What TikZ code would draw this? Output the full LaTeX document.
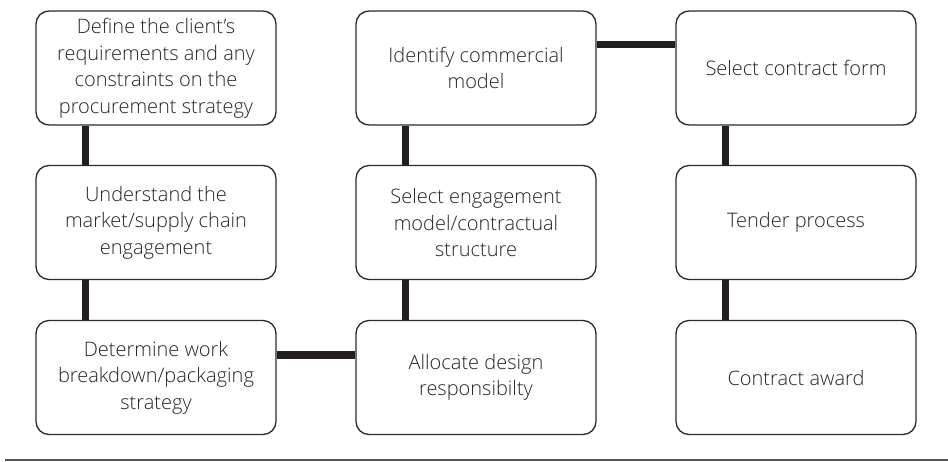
\documentclass[tikz,border=0pt]{standalone}
\usepackage{fontspec}
\setmainfont{Open Sans}[UprightFont=* Light]
\definecolor{boxline}{HTML}{2B2B2B}
\definecolor{txt}{HTML}{262626}
\definecolor{conn}{HTML}{231F20}
\definecolor{rule}{HTML}{555555}
\begin{document}
\begin{tikzpicture}[x=1pt,y=-1pt,
  stepbox/.style={draw=boxline,line width=1.3pt,rounded corners=13pt,fill=white,
    minimum width=240pt,minimum height=114pt,align=center,text=txt,
    font=\fontsize{20}{26.5}\selectfont,inner sep=0pt},
  link/.style={draw=conn,line width=7.5pt}]
\useasboundingbox (0,0) rectangle (948,461);
\node[stepbox] (a1) at (156,68) {Define the client’s\\requirements and any\\constraints on the\\procurement strategy};
\node[stepbox] (a2) at (156,222.5) {Understand the\\market/supply chain\\engagement};
\node[stepbox] (a3) at (156,377.5) {Determine work\\breakdown/packaging\\strategy};
\node[stepbox] (b1) at (476,68) {Identify commercial\\model};
\node[stepbox] (b2) at (476,222.5) {Select engagement\\model/contractual\\structure};
\node[stepbox] (b3) at (476,377.5) {Allocate design\\responsibilty};
\node[stepbox] (c1) at (796,68) {Select contract form};
\node[stepbox] (c2) at (796,222.5) {Tender process};
\node[stepbox] (c3) at (796,377.5) {Contract award};
\path[link] ([xshift=50pt]a1.south west) -- ([xshift=50pt]a2.north west);
\path[link] ([xshift=50pt]a2.south west) -- ([xshift=50pt]a3.north west);
\path[link] ([yshift=-35pt]a3.north east) -- ([yshift=-35pt]b3.north west);
\path[link] ([xshift=50pt]b3.north west) -- ([xshift=50pt]b2.south west);
\path[link] ([xshift=50pt]b2.north west) -- ([xshift=50pt]b1.south west);
\path[link] ([yshift=-34pt]b1.north east) -- ([yshift=-34pt]c1.north west);
\path[link] ([xshift=50pt]c1.south west) -- ([xshift=50pt]c2.north west);
\path[link] ([xshift=50pt]c2.south west) -- ([xshift=50pt]c3.north west);
\coordinate (ruleL) at (5,460);
\coordinate (ruleR) at (948,460);
\draw[rule,line width=1.5pt] (ruleL) -- (ruleR);
\end{tikzpicture}
\end{document}
